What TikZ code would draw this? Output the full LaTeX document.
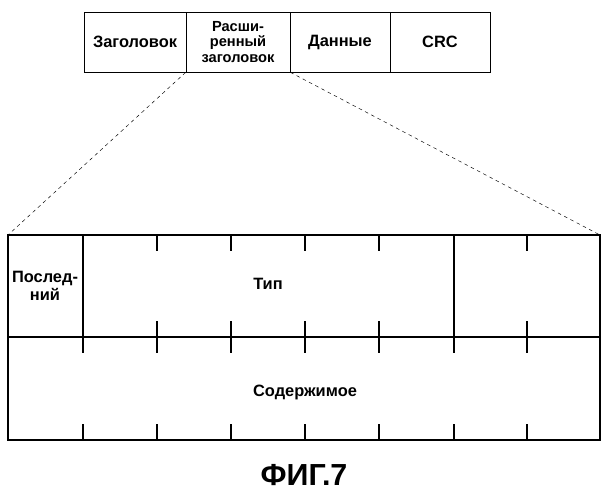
\documentclass[tikz,border=0pt]{standalone}
\usepackage{fontspec}
\setmainfont{Liberation Sans}
\usepackage{tikz}

\tikzset{
  field/.style={draw, semithick, minimum height=60*0.03cm, inner sep=0pt, align=center,
    font=\bfseries\fontsize{14}{14}\selectfont},
  label/.style={font=\bfseries\fontsize{14}{15}\selectfont, align=center},
}

\begin{document}
\begin{tikzpicture}[x=0.03cm, y=-0.03cm, line width=1pt]
  \useasboundingbox (0,0) rectangle (609,500);

  % packet on top
  \node[field, minimum width=102*0.03cm] (hdr) at (135,42) {Заголовок};
  \node[field, minimum width=104*0.03cm, font=\bfseries\fontsize{12.5}{13}\selectfont] (ext) at (238,42) {Расши-\\ренный\\заголовок};
  \node[field, minimum width=100*0.03cm] (data) at (340,42) {Данные};
  \node[field, minimum width=100*0.03cm] (crc) at (440,42) {CRC};

  % extended header, enlarged
  \coordinate (bl) at (8,235);
  \coordinate (br) at (600,235);
  \draw (bl) rectangle (600,440);
  \draw (8,337) -- (600,337);
  \draw (83,235) -- (83,337);
  \draw (454,235) -- (454,337);
  \foreach \x in {83,157,231,305,379,454,527} {
    \draw (\x,235) -- (\x,251);
    \draw (\x,321) -- (\x,353);
    \draw (\x,424) -- (\x,440);
  }
  \draw[dashed, thin] (ext.south west) -- (bl);
  \draw[dashed, thin] (ext.south east) -- (br);

  \node[label, inner sep=0pt] (last) at (45,286) {Послед-\\ний};
  \node[label] (type) at (268,284) {Тип};
  \node[label] (cont) at (305,392) {Содержимое};

  \node[font=\bfseries\fontsize{26}{26}\selectfont] (fig) at (304,475) {ФИГ.7};
\end{tikzpicture}
\end{document}
